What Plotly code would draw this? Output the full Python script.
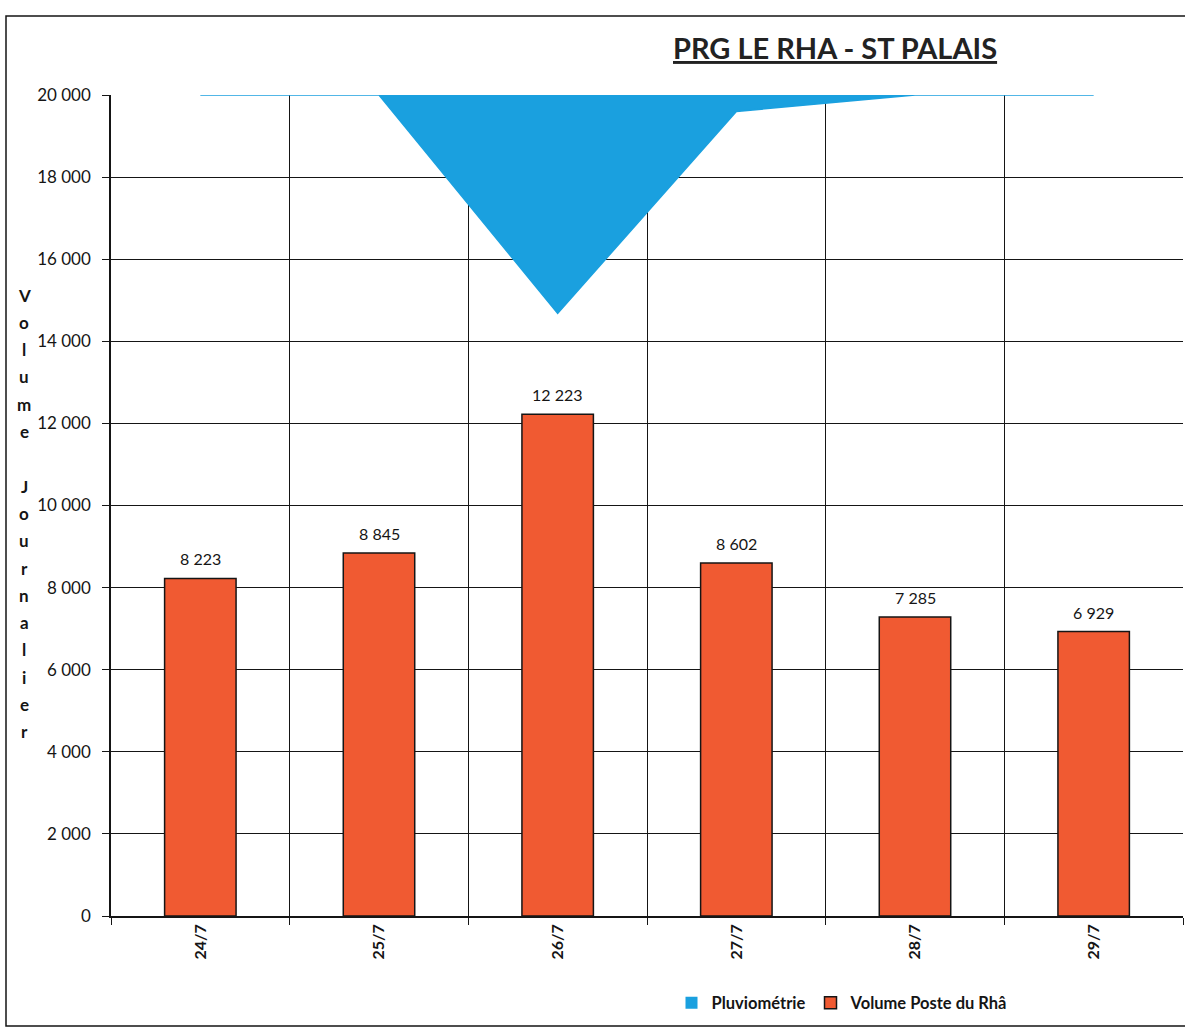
import plotly.graph_objects as go

# ---- data ----
categories = ["24/7", "25/7", "26/7", "27/7", "28/7", "29/7"]
volume = [8223, 8845, 12223, 8602, 7285, 6929]          # Volume Poste du Rhâ
pluvio = [0, 0, 13.3, 1.0, 0, 0]                        # Pluviométrie (mm, reversed axis)
y_ticks = [0, 2000, 4000, 6000, 8000, 10000, 12000, 14000, 16000, 18000, 20000]
title_text = "PRG LE RHA - ST PALAIS"
yaxis_title = "Volume Journalier"
series_names = ["Pluviométrie", "Volume Poste du Rhâ"]

W, H = 1185, 1032
L, R, T, B = 111, 2, 95, 116
plot_w = W - L - R
plot_h = H - T - B

FONT = "Lato"
BAR_COLOR = "#F05A32"
BLUE = "#1AA0DF"
INK = "#151515"

def px_x(x):
    return (x - L) / plot_w

def px_y(y):
    return (H - B - y) / plot_h

fig = go.Figure()

# rainfall area hanging from the top (reversed secondary axis)
fig.add_trace(go.Scatter(
    x=categories, y=pluvio, yaxis="y2", name=series_names[0],
    mode="lines", fill="tozeroy", fillcolor=BLUE,
    line=dict(color=BLUE, width=1.5), showlegend=False, legendgroup="pluvio",
))
# legend proxy (square swatch) for the rainfall series
fig.add_trace(go.Bar(
    x=[None], y=[None], name=series_names[0], legendgroup="pluvio",
    marker=dict(color=BLUE, line=dict(color=BLUE, width=0)),
))

fig.add_trace(go.Bar(
    x=categories, y=volume, name=series_names[1],
    width=0.4, marker=dict(color=BAR_COLOR, line=dict(color=INK, width=1.5)),
))

annotations = []
for c, v in zip(categories, volume):
    annotations.append(dict(
        x=c, y=v, xref="x", yref="y", text=f"{v:,d}".replace(",", " "),
        showarrow=False, yanchor="bottom", yshift=8,
        font=dict(family=FONT, size=16, color=INK),
    ))

# stacked vertical axis title
y0 = 295
for i, ch in enumerate(yaxis_title):
    if ch == " ":
        continue
    annotations.append(dict(
        x=px_x(24), y=px_y(y0 + 27.3 * i), xref="paper", yref="paper",
        text=ch, showarrow=False, xanchor="center", yanchor="middle",
        font=dict(family=FONT, size=17, color=INK, weight="bold"),
    ))

annotations.append(dict(
    x=px_x(835), y=px_y(47), xref="paper", yref="paper", text=title_text,
    showarrow=False, xanchor="center", yanchor="middle",
    font=dict(family=FONT, size=29, color="#222", weight="bold", lineposition="under"),
))

fig.update_layout(
    width=W, height=H,
    margin=dict(l=L, r=R, t=T, b=B),
    paper_bgcolor="white", plot_bgcolor="white",
    separators=", ",
    font=dict(family=FONT, color=INK),
    showlegend=True,
    legend=dict(
        orientation="h", x=px_x(842), y=px_y(1003), xanchor="center", yanchor="middle",
        font=dict(family=FONT, size=16.5, color=INK, weight="bold"),
        itemwidth=30, traceorder="normal",
    ),
    xaxis=dict(
        type="category", tickson="boundaries", showgrid=True, gridcolor=INK, gridwidth=1,
        showline=True, linecolor=INK, linewidth=1.5,
        ticks="outside", ticklen=7, tickcolor=INK,
        tickangle=-90, tickfont=dict(family=FONT, size=16, color=INK, weight="bold"),
        range=[-0.5, 5.5],
    ),
    yaxis=dict(
        range=[0, 20000], tickvals=y_ticks, tickformat=",d",
        showgrid=True, gridcolor=INK, gridwidth=1,
        showline=True, linecolor=INK, linewidth=1.5,
        ticks="outside", ticklen=7, tickcolor=INK,
        ticklabelstandoff=8,
        tickfont=dict(family=FONT, size=17, color=INK),
        zeroline=False,
    ),
    yaxis2=dict(
        overlaying="y", side="right", range=[50, 0], visible=False, showgrid=False,
    ),
    bargap=0.6,
    annotations=annotations,
    shapes=[dict(
        type="rect", xref="paper", yref="paper",
        x0=px_x(6), x1=px_x(1200), y0=px_y(1026), y1=px_y(16),
        line=dict(color=INK, width=1.5), fillcolor="rgba(0,0,0,0)", layer="below",
    )],
)

fig.write_html("out.html")
